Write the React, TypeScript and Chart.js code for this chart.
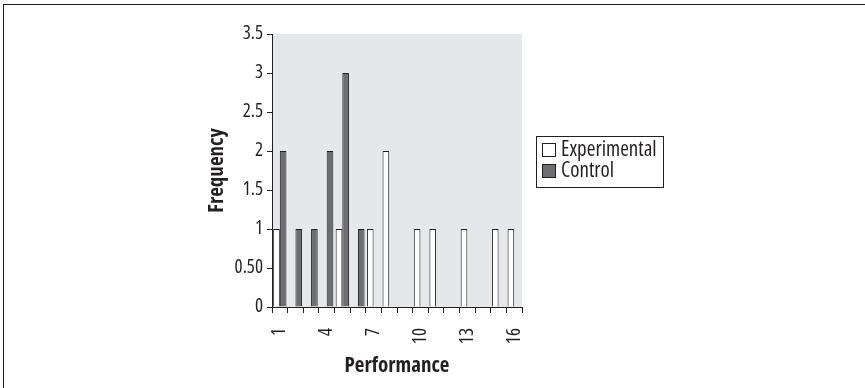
import React, { useEffect, useRef } from "react";
import { Chart, registerables } from "chart.js";

Chart.register(...registerables);

const categories = ["1", "2", "3", "4", "5", "6", "7", "8", "9", "10", "11", "12", "13", "14", "15", "16"];
const experimental = [1, 0, 0, 0, 1, 0, 1, 2, 0, 1, 1, 0, 1, 0, 1, 1];
const control = [2, 1, 1, 2, 3, 1, 0, 0, 0, 0, 0, 0, 0, 0, 0, 0];
const shownXLabels = ["1", "4", "7", "10", "13", "16"];
const yTickValues = [0, 0.5, 1, 1.5, 2, 2.5, 3, 3.5];
const yTickLabels = ["0", "0.50", "1", "1.5", "2", "2.5", "3", "3.5"];

const FONT = '"Open Sans", "Roboto Condensed", sans-serif';
const INK = "#231f20";

const bgPlugin = {
  id: "plotBg",
  beforeDraw(chart: any) {
    const { ctx, chartArea } = chart;
    ctx.save();
    ctx.fillStyle = "#e6e7e8";
    ctx.fillRect(chartArea.left, chartArea.top, chartArea.right - chartArea.left, chartArea.bottom - chartArea.top);
    ctx.restore();
  },
};

const legendPlugin = {
  id: "boxLegend",
  afterDraw(chart: any) {
    const { ctx, chartArea } = chart;
    const x0 = Math.round(chartArea.right) + 14;
    const y0 = Math.round(chartArea.top) + 102;
    const w = 127;
    const h = 51;
    ctx.save();
    ctx.fillStyle = "#ffffff";
    ctx.fillRect(x0, y0, w, h);
    ctx.strokeStyle = INK;
    ctx.lineWidth = 1;
    ctx.strokeRect(x0 + 0.5, y0 + 0.5, w, h);
    chart.data.datasets.forEach((ds: any, i: number) => {
      const sy = y0 + 7 + i * 21;
      ctx.fillStyle = ds.backgroundColor;
      ctx.fillRect(x0 + 6.5, sy + 0.5, 13, 13);
      ctx.strokeStyle = INK;
      ctx.strokeRect(x0 + 6.5, sy + 0.5, 13, 13);
      ctx.fillStyle = INK;
      ctx.font = `normal condensed 21px ${FONT}`;
      ctx.textBaseline = "middle";
      ctx.textAlign = "left";
      ctx.fillText(ds.label, x0 + 25, sy + 7);
    });
    ctx.restore();
  },
};

export default function App() {
  const ref = useRef<HTMLCanvasElement | null>(null);

  useEffect(() => {
    if (!ref.current) return;
    const chart = new Chart(ref.current, {
      type: "bar",
      data: {
        labels: categories,
        datasets: [
          {
            label: "Experimental",
            data: experimental,
            backgroundColor: "#ffffff",
            borderColor: INK,
            borderWidth: 1,
            categoryPercentage: 0.85,
            barPercentage: 1.0,
          },
          {
            label: "Control",
            data: control,
            backgroundColor: "#6d6e71",
            borderColor: INK,
            borderWidth: 1,
            categoryPercentage: 0.85,
            barPercentage: 1.0,
          },
        ],
      },
      options: {
        responsive: false,
        animation: false,
        layout: { padding: { left: 204, right: 343, top: 34, bottom: 0 } },
        plugins: {
          legend: { display: false },
          tooltip: { enabled: false },
        },
        scales: {
          x: {
            afterFit: (scale: any) => {
              scale.height = 81;
            },
            grid: {
              display: true,
              drawOnChartArea: false,
              drawTicks: true,
              tickLength: 6,
              color: INK,
              offset: true,
            },
            border: { display: true, color: INK, width: 1 },
            ticks: {
              autoSkip: false,
              maxRotation: 90,
              minRotation: 90,
              padding: 15,
              color: INK,
              font: { family: FONT, size: 19, weight: "condensed" as any },
              callback: (_v: any, i: number) => (shownXLabels.includes(categories[i]) ? categories[i] : ""),
            },
            title: {
              display: true,
              text: "Performance",
              color: INK,
              font: { family: FONT, size: 21, weight: "bold condensed" as any },
              padding: { top: 0, bottom: 9 },
            },
          },
          y: {
            min: 0,
            max: 3.5,
            afterFit: (scale: any) => {
              scale.width = 68;
            },
            grid: {
              display: true,
              drawOnChartArea: false,
              drawTicks: true,
              tickLength: 5,
              color: INK,
            },
            border: { display: true, color: INK, width: 1 },
            ticks: {
              stepSize: 0.5,
              padding: 4,
              color: INK,
              font: { family: FONT, size: 19, weight: "condensed" as any },
              callback: (v: any) => {
                const idx = yTickValues.indexOf(Number(v));
                return idx >= 0 ? yTickLabels[idx] : "";
              },
            },
            title: {
              display: true,
              text: "Frequency",
              color: INK,
              font: { family: FONT, size: 21, weight: "bold condensed" as any },
              padding: { top: 0, bottom: 0 },
            },
          },
        },
      },
      plugins: [bgPlugin, legendPlugin],
    });
    return () => chart.destroy();
  }, []);

  return (
    <div style={{ position: "absolute", left: 0, top: 0, width: 865, height: 388, background: "#fff", overflow: "hidden" }}>
      <div
        style={{
          position: "absolute",
          left: 3,
          top: 4,
          width: 862,
          height: 384,
          borderTop: `1px solid ${INK}`,
          borderLeft: `1px solid ${INK}`,
          boxSizing: "border-box",
        }}
      />
      <canvas ref={ref} width={865} height={388} style={{ position: "absolute", left: 0, top: 0, width: 865, height: 388 }} />
    </div>
  );
}
